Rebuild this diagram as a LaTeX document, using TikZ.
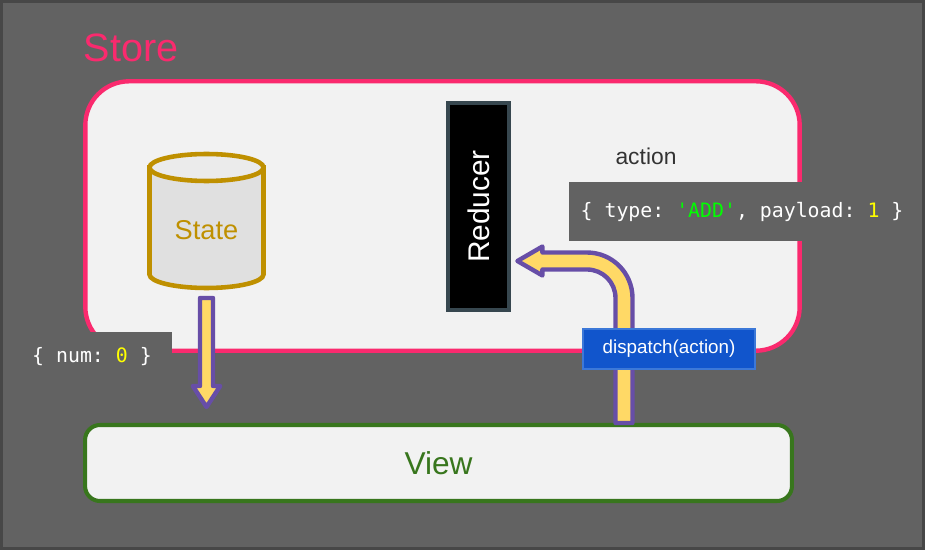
\documentclass[tikz,border=0pt]{standalone}
\usepackage{fontspec}
\setmainfont{Liberation Sans}
\setmonofont{DejaVu Sans Mono}
\usetikzlibrary{calc}
\definecolor{bgcolor}{RGB}{98,98,98}
\definecolor{framecolor}{RGB}{71,71,71}
\definecolor{storepink}{RGB}{250,42,110}
\definecolor{panelcolor}{RGB}{242,242,242}
\definecolor{stategold}{RGB}{191,144,0}
\definecolor{cylbody}{RGB}{224,224,224}
\definecolor{cyltop}{RGB}{235,235,235}
\definecolor{reducerline}{RGB}{55,71,79}
\definecolor{arrowfill}{RGB}{255,217,102}
\definecolor{arrowline}{RGB}{103,78,167}
\definecolor{dispatchfill}{RGB}{17,85,204}
\definecolor{dispatchline}{RGB}{60,120,216}
\definecolor{viewgreen}{RGB}{56,118,29}
\definecolor{actiontext}{RGB}{51,51,51}
\definecolor{codegreen}{RGB}{0,255,0}
\definecolor{codeyellow}{RGB}{255,255,0}

\begin{document}
\begin{tikzpicture}[x=0.02cm, y=-0.02cm,
    codebox/.style={fill=bgcolor, text=white, inner sep=0pt, font=\fontsize{11.3}{13}\selectfont\ttfamily},
    fatarrow/.style={fill=arrowfill, draw=arrowline, line width=2.5pt, line join=round}]
    \useasboundingbox (0,0) rectangle (925,550);
    \fill[framecolor] (0,0) rectangle (925,550);
    \fill[bgcolor] (3,3) rectangle (922,547);

    \node[draw=storepink, fill=panelcolor, line width=2.5pt, rounded corners=25pt, minimum width=14.29cm, minimum height=5.39cm] (store) at (442.5,216) {};
    \node[text=storepink, font=\fontsize{22.5}{27}\selectfont] (storetitle) at (131,48) {Store};

    \coordinate (cyl) at (206.5,167.5);
    \filldraw[fill=cylbody, draw=stategold, line width=2.6pt] ($(cyl)+(-57,0)$) -- ($(cyl)+(-57,107)$) arc[start angle=180, end angle=360, x radius=1.14cm, y radius=0.27cm] -- ($(cyl)+(57,0)$) -- cycle;
    \filldraw[fill=cyltop, draw=stategold, line width=2.6pt] (cyl) ellipse [x radius=1.14cm, y radius=0.27cm];
    \node[text=stategold, font=\fontsize{15.5}{18}\selectfont] (state) at (206.5,230) {State};

    \node[fill=black, draw=reducerline, line width=2.2pt, minimum width=1.22cm, minimum height=4.14cm, text=white, font=\fontsize{17}{20}\selectfont] (reducer) at (478.5,206.5) {\rotatebox{90}{Reducer}};

    \node[text=actiontext, font=\fontsize{13}{15}\selectfont] (action) at (646,156) {action};
    \node[codebox, minimum width=6.92cm, minimum height=1.18cm] (payload) at (742,211.5) {\{ type: \textcolor{codegreen}{'ADD'}, payload: \textcolor{codeyellow}{1} \}};
    \node[codebox, minimum width=3.2cm, minimum height=1cm] (num) at (92,357) {\{ num: \textcolor{codeyellow}{0} \}};

    \node[draw=viewgreen, fill=panelcolor, line width=2.3pt, rounded corners=8.5pt, minimum width=14.14cm, minimum height=1.52cm, text=viewgreen, font=\fontsize{18}{22}\selectfont] (view) at (438.5,463) {View};

    \coordinate (s0) at ($(cyl)+(0,130.5)$);
    \coordinate (s1) at ($(view.north -| s0)+(0,-16)$);
    \filldraw[fatarrow] ($(s0)+(-6.5,0)$) -- ($(s1)+(-6.5,-21)$) -- ($(s1)+(-13.7,-21)$) -- (s1) -- ($(s1)+(13.7,-21)$) -- ($(s1)+(6.5,-21)$) -- ($(s0)+(6.5,0)$) -- cycle;

    \coordinate (d0) at ($(view.north)+(185.5,0)$);
    \coordinate (d1) at ($(reducer.east)+(6.5,54.5)$);
    \coordinate (bend) at (d0 |- d1);
    \filldraw[fatarrow] ($(d0)+(8.5,0)$) -- ($(bend)+(8.5,37)$) arc[start angle=0, end angle=90, radius=0.91cm] -- ($(d1)+(25,-8.5)$) -- ($(d1)+(25,-14.5)$) -- (d1) -- ($(d1)+(25,14.5)$) -- ($(d1)+(25,8.5)$) -- ($(bend)+(-37,8.5)$) arc[start angle=90, end angle=0, radius=0.57cm] -- ($(d0)+(-8.5,0)$) -- cycle;

    \node[fill=dispatchfill, draw=dispatchline, line width=1.1pt, minimum width=3.44cm, minimum height=0.8cm, text=white, font=\fontsize{10.7}{13}\selectfont] (dispatch) at (669,349) {dispatch(action)};
\end{tikzpicture}
\end{document}
